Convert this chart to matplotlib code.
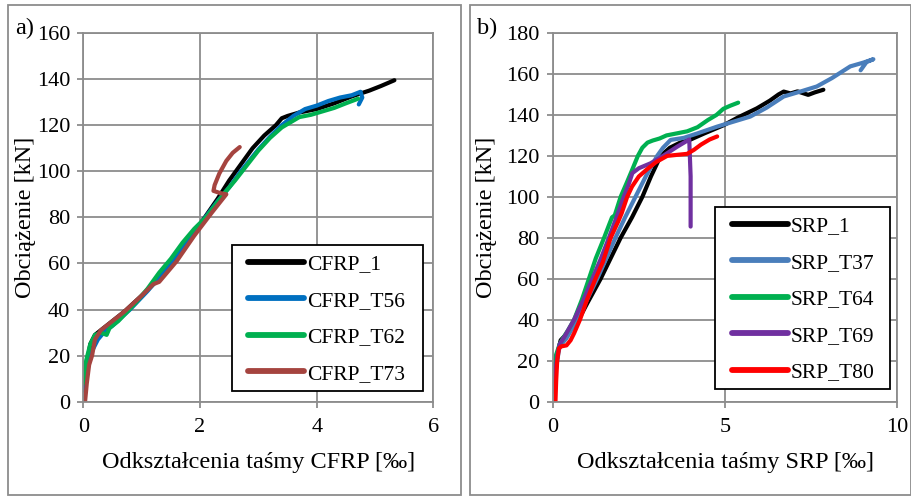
import matplotlib
matplotlib.use("Agg")
import matplotlib.pyplot as plt
from matplotlib.patches import Rectangle

plt.rcParams['font.family'] = ['Liberation Serif', 'DejaVu Serif']

# ---------------- data: panel a) CFRP ----------------
cfrp_1_x = [0.0, 0.05, 0.12, 0.2, 0.3, 0.5, 0.7, 1.0, 1.2, 1.5, 1.7, 2.0, 2.3, 2.5, 2.7, 2.9, 3.1, 3.3, 3.4, 3.5, 3.7, 4.0, 4.3, 4.6, 4.9, 5.1, 5.33]
cfrp_1_y = [5, 15, 25, 29, 31, 35, 39, 46, 51, 60, 67, 77, 88, 96, 103, 110, 115.5, 120, 123, 124, 125.5, 127, 129.5, 132.5, 135, 137, 139.5]

cfrp_t56_x = [0.02, 0.08, 0.15, 0.25, 0.35, 0.5, 0.8, 1.1, 1.4, 1.7, 2.0, 2.3, 2.5, 2.7, 3.0, 3.2, 3.4, 3.6, 3.8, 4.0, 4.2, 4.4, 4.6, 4.75, 4.78, 4.72]
cfrp_t56_y = [5, 15, 22, 27, 30, 33, 40, 48, 57, 67, 77, 87, 93, 100, 109.5, 115, 120, 124, 127, 128.5, 130.5, 132, 133, 134.5, 132, 129]

cfrp_t62_x = [0.0, 0.05, 0.12, 0.2, 0.3, 0.4, 0.45, 0.6, 0.9, 1.1, 1.3, 1.5, 1.7, 1.9, 2.1, 2.4, 2.6, 2.8, 3.0, 3.2, 3.4, 3.6, 3.7, 3.9, 4.1, 4.3, 4.5, 4.71]
cfrp_t62_y = [8, 18, 25, 29, 30, 29, 32, 35, 43, 49, 56, 62, 69, 75, 80, 90, 96, 102.5, 109, 114.5, 119, 122, 123.5, 124.5, 126, 127.5, 129.5, 131.5]

cfrp_t73_x = [0.03, 0.06, 0.1, 0.15, 0.2, 0.3, 0.5, 0.7, 1.0, 1.2, 1.3, 1.6, 1.9, 2.2, 2.45, 2.35, 2.23, 2.25, 2.33, 2.45, 2.56, 2.68]
cfrp_t73_y = [0, 8, 16, 20, 27, 31, 35, 39, 46, 51, 52, 61, 72, 82, 90, 90.5, 91.5, 94, 99, 104.5, 108, 110.5]

# ---------------- data: panel b) SRP ----------------
srp_1_x = [0.02, 0.08, 0.15, 0.23, 0.4, 0.75, 1.0, 1.39, 1.97, 2.3, 2.6, 2.85, 3.13, 3.4, 3.7, 4.0, 4.4, 4.96, 5.4, 5.92, 6.3, 6.55, 6.7, 6.9, 7.1, 7.41, 7.6, 7.85]
srp_1_y = [5, 15, 24, 30, 33, 40, 48, 60, 80, 90, 100, 110, 120, 124, 126.5, 128, 131, 135, 139, 143.2, 147, 150, 151.4, 150.5, 151.5, 149.8, 151, 152.3]

srp_t37_x = [0.02, 0.08, 0.15, 0.2, 0.4, 0.71, 1.0, 1.29, 1.82, 2.1, 2.4, 2.7, 3.03, 3.2, 3.42, 3.8, 4.2, 4.77, 5.2, 5.73, 6.2, 6.7, 7.2, 7.66, 8.1, 8.63, 9.0, 9.3, 9.1, 8.93]
srp_t37_y = [5, 14, 22, 27, 31, 40, 50, 60, 80, 90, 100, 110, 120, 124, 127.8, 128.8, 131, 134.3, 136.5, 139.2, 143.5, 149, 151.5, 153.9, 158, 163.7, 165.5, 167.2, 165.8, 161.8]

srp_t64_x = [0.0, 0.05, 0.1, 0.2, 0.3, 0.45, 0.62, 0.85, 1.05, 1.25, 1.49, 1.65, 1.72, 1.8, 1.97, 2.15, 2.3, 2.47, 2.6, 2.75, 2.9, 3.1, 3.3, 3.6, 3.9, 4.2, 4.5, 4.75, 4.95, 5.15, 5.38]
srp_t64_y = [8, 17, 23, 28, 31, 35, 40, 50, 60, 70, 80, 87, 90, 91, 100, 107, 113, 120, 124, 126.5, 127.5, 128.5, 130, 131, 132, 134, 137.5, 140, 143, 144.5, 146]

srp_t69_x = [0.02, 0.07, 0.13, 0.2, 0.35, 0.62, 0.9, 1.15, 1.4, 1.63, 1.85, 2.06, 2.2, 2.31, 2.5, 2.84, 3.2, 3.61, 3.96, 4.0, 4.0]
srp_t69_y = [5, 14, 22, 28, 32, 40, 50, 60, 70, 80, 90, 100, 106, 111.6, 114, 116.4, 120, 124.5, 128, 110, 85.5]

srp_t80_x = [0.08, 0.1, 0.13, 0.18, 0.25, 0.4, 0.52, 0.62, 0.79, 1.0, 1.24, 1.45, 1.68, 1.9, 2.0, 2.16, 2.3, 2.5, 2.74, 3.0, 3.32, 3.6, 3.9, 4.1, 4.3, 4.55, 4.77]
srp_t80_y = [0, 10, 20, 26, 27, 27.5, 30, 33.4, 40, 50, 60, 68, 80, 88, 92, 100, 105, 110, 113.5, 117, 120, 120.5, 121, 123, 125.5, 128, 129.5]

cfrp_series = [
    ("CFRP_1", cfrp_1_x, cfrp_1_y, "#000000"),
    ("CFRP_T56", cfrp_t56_x, cfrp_t56_y, "#0070C0"),
    ("CFRP_T62", cfrp_t62_x, cfrp_t62_y, "#00B050"),
    ("CFRP_T73", cfrp_t73_x, cfrp_t73_y, "#A5443F"),
]
srp_series = [
    ("SRP_1", srp_1_x, srp_1_y, "#000000"),
    ("SRP_T37", srp_t37_x, srp_t37_y, "#4A7EBB"),
    ("SRP_T64", srp_t64_x, srp_t64_y, "#00B050"),
    ("SRP_T69", srp_t69_x, srp_t69_y, "#7030A0"),
    ("SRP_T80", srp_t80_x, srp_t80_y, "#FF0000"),
]

W, H = 912, 496
fig = plt.figure(figsize=(W / 100, H / 100), dpi=100)

def px_rect(x0, y0, x1, y1):
    return [x0 / W, 1 - y1 / H, (x1 - x0) / W, (y1 - y0) / H]

def frame(x0, y0, x1, y1, color, lw, z=1):
    r = Rectangle((x0 / W, 1 - y1 / H), (x1 - x0) / W, (y1 - y0) / H,
                  transform=fig.transFigure, fill=False, edgecolor=color,
                  linewidth=lw, zorder=z)
    fig.add_artist(r)

# panel frames
frame(8, 5, 461, 495, "#8C8C8C", 1.3)
frame(470, 5, 911, 495, "#8C8C8C", 1.3)

grid_c = "#8C8C8C"
FS = 16
FS_LAB = 17.5
FS_LEG = 15.5

def style_axes(ax, xlim, xticks, ylim, yticks, xlabel, ylab_x):
    ax.set_xlim(*xlim)
    ax.set_ylim(*ylim)
    ax.set_xticks(xticks)
    ax.set_yticks(yticks)
    ax.grid(True, color=grid_c, linewidth=1.3)
    ax.set_axisbelow(True)
    for s in ax.spines.values():
        s.set_color(grid_c)
        s.set_linewidth(1.3)
    ax.tick_params(axis='both', direction='out', length=4.5, width=1.3,
                   color=grid_c, labelsize=FS, pad=5)
    ax.tick_params(axis='x', pad=7)
    ax.set_xlabel(xlabel, fontsize=FS_LAB, labelpad=11)
    ax.set_ylabel("Obciążenie [kN]", fontsize=FS_LAB)
    ax.yaxis.set_label_coords(ylab_x, 0.5)

def add_legend(ax, handle_x, first_row_y, box):
    leg = ax.legend(loc='upper left',
                    bbox_to_anchor=(handle_x / W, 1 - (first_row_y - 9) / H),
                    bbox_transform=fig.transFigure, fontsize=FS_LEG,
                    frameon=False, handlelength=2.6, handletextpad=0.15,
                    labelspacing=0.76, borderpad=0, borderaxespad=0)
    for l in leg.get_lines():
        l.set_linewidth(4.2)
        l.set_solid_capstyle('round')
    x0, y0, x1, y1 = box
    ax.add_patch(Rectangle((x0 / W, 1 - y1 / H), (x1 - x0) / W, (y1 - y0) / H,
                           transform=fig.transFigure, facecolor='white',
                           edgecolor='black', linewidth=1.3, zorder=4.5))
    leg.set_zorder(5)
    return leg

axA = fig.add_axes(px_rect(83.3, 33, 433.5, 401.7))
for name, x, y, c in cfrp_series:
    axA.plot(x, y, color=c, linewidth=3.0, label=name, solid_capstyle='round', solid_joinstyle='round')
style_axes(axA, (0, 6), [0, 2, 4, 6], (0, 160), list(range(0, 161, 20)),
           "Odkształcenia taśmy CFRP [‰]", -0.135)
add_legend(axA, 248, 263.3, (231.7, 245, 422.7, 390.7))

axB = fig.add_axes(px_rect(552.7, 33, 897.5, 401.7))
for name, x, y, c in srp_series:
    axB.plot(x, y, color=c, linewidth=3.0, label=name, solid_capstyle='round', solid_joinstyle='round')
style_axes(axB, (0, 10), [0, 5, 10], (0, 180), list(range(0, 181, 20)),
           "Odkształcenia taśmy SRP [‰]", -0.1615)
add_legend(axB, 731.7, 225.5, (715, 206.7, 890, 389.3))

fig.text(15 / W, 1 - 28 / H, "a)", fontsize=17.5, va='center', ha='left')
fig.text(477 / W, 1 - 28 / H, "b)", fontsize=17.5, va='center', ha='left')

fig.savefig("out.png", dpi=100)
